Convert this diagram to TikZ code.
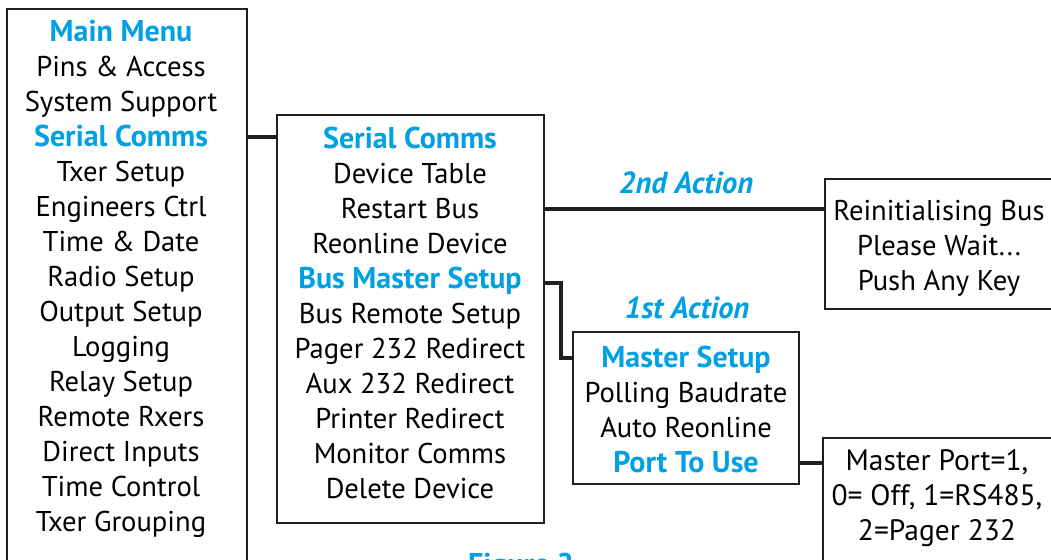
\documentclass[tikz,border=0pt]{standalone}
\usepackage{fontspec}
\setmainfont{PT Sans}
\usetikzlibrary{matrix}
\definecolor{menublue}{RGB}{0,160,227}
\definecolor{ink}{RGB}{35,31,32}
\tikzset{
  menu/.style={matrix of nodes, inner sep=0pt, row sep=5pt, anchor=north,
    nodes={anchor=base, inner sep=0pt, text height=24pt, text depth=6pt,
      font=\fontsize{28.6}{34}\selectfont}},
  head/.style={text=menublue, font=\fontsize{30}{36}\selectfont\bfseries},
  action/.style={text=menublue, anchor=base, inner sep=0pt,
    font=\fontsize{30.5}{36}\selectfont\bfseries\itshape},
  box/.style={draw=ink, line width=1.8pt, outer sep=0pt, inner sep=0pt, anchor=north west},
  link/.style={draw=ink, line width=4pt}
}
\begin{document}
\begin{tikzpicture}[x=1pt,y=-1pt]
\useasboundingbox (0,0) rectangle (1051,559);
% frames
\node (mainbox) [box, minimum width=240, minimum height=591] at (7,9) {};
\node (serialbox) [box, minimum width=267, minimum height=408] at (277,115) {};
\node (reinitbox) [box, minimum width=229, minimum height=130] at (825,179) {};
\node (masterbox) [box, minimum width=226, minimum height=152] at (573,332) {};
\node (portbox) [box, minimum width=229, minimum height=162] at (823,438) {};
% menus
\matrix (main) [menu] at (121,17)
  {
    |[head]| Main Menu \\
    Pins \& Access \\
    System Support \\
    |[head]| Serial Comms \\
    Txer Setup \\
    Engineers Ctrl \\
    Time \& Date \\
    Radio Setup \\
    Output Setup \\
    Logging \\
    Relay Setup \\
    Remote Rxers \\
    Direct Inputs \\
    Time Control \\
    Txer Grouping \\};
\matrix (serial) [menu] at (410,124)
  {
    |[head]| Serial Comms \\
    Device Table \\
    Restart Bus \\
    Reonline Device \\
    |[head]| Bus Master Setup \\
    Bus Remote Setup \\
    Pager 232 Redirect \\
    Aux 232 Redirect \\
    Printer Redirect \\
    Monitor Comms \\
    Delete Device \\};
\matrix (reinit) [menu] at (939,196)
  {
    Reinitialising Bus \\
    Please Wait... \\
    Push Any Key \\};
\matrix (master) [menu] at (686,343)
  {
    |[head]| Master Setup \\
    Polling Baudrate \\
    Auto Reonline \\
    |[head]| Port To Use \\};
\matrix (port) [menu, nodes={font=\fontsize{29.5}{35}\selectfont}] at (937,446)
  {
    Master Port=1, \\
    0= Off, 1=RS485, \\
    2=Pager 232 \\};
\node (second) [action] at (686,193) {2nd Action};
\node (first) [action] at (687,318) {1st Action};
\node (figure) [action, font=\fontsize{30}{36}\selectfont\bfseries] at (521,574) {Figure 2};
% connectors
\path[link]
  (mainbox.east |- main-4-1) edge (serialbox.west |- main-4-1)
  (serialbox.east |- serial-3-1) edge (reinitbox.west |- serial-3-1)
  (masterbox.east |- master-4-1) edge (portbox.west |- master-4-1);
\draw[link] ([yshift=-3.5pt]serialbox.east |- serial-5-1) -- ++(17,0) |- (masterbox.west |- master-1-1);
\end{tikzpicture}
\end{document}
